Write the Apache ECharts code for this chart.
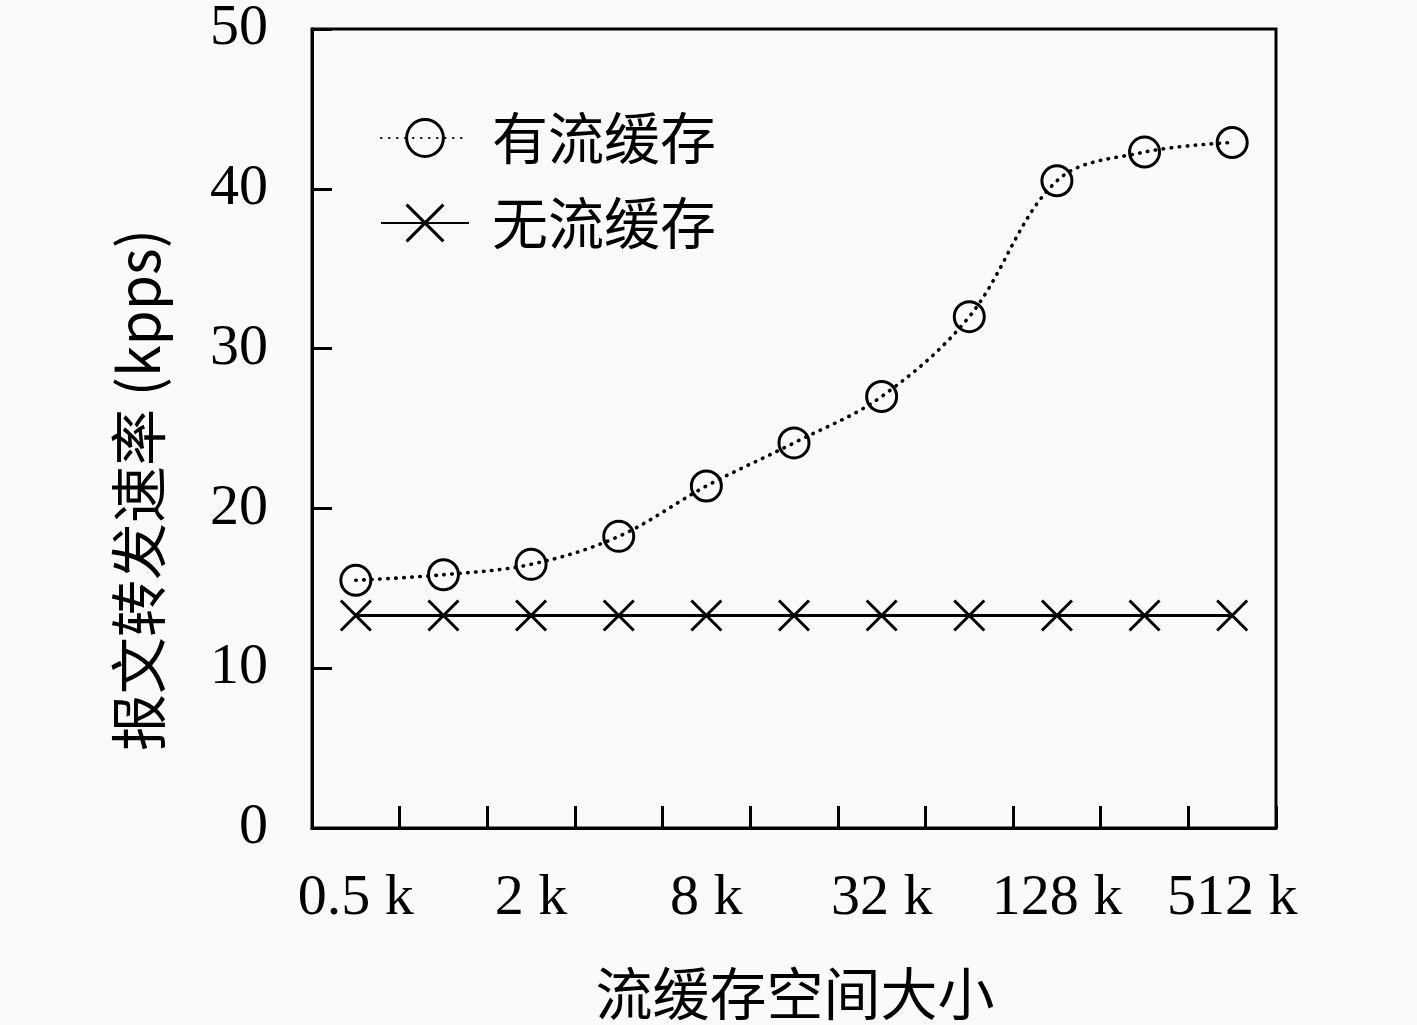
<!DOCTYPE html>
<html>
<head>
<meta charset="utf-8">
<script src="https://cdn.jsdelivr.net/npm/echarts@6/dist/echarts.min.js"></script>
<style>
html,body{margin:0;padding:0;background:#fafafa;}
#c{width:1417px;height:1025px;}
</style>
</head>
<body>
<div id="c"></div>
<script>
var categories = ['0.5 k','1 k','2 k','4 k','8 k','16 k','32 k','64 k','128 k','256 k','512 k'];
var withCache = [15.5, 15.85, 16.5, 18.25, 21.4, 24.1, 27.0, 32.0, 40.5, 42.3, 42.9];
var withoutCache = [13.3, 13.3, 13.3, 13.3, 13.3, 13.3, 13.3, 13.3, 13.3, 13.3, 13.3];
var seriesNames = ['有流缓存', '无流缓存'];
var yTicks = [0, 10, 20, 30, 40, 50];
var xTitle = '流缓存空间大小';
var yTitle = '报文转发速率 (kpps)';

var serif = '"Liberation Serif", "Noto Sans CJK SC", serif';
var cjk = '"Noto Sans CJK SC", "Liberation Serif", sans-serif';
var chart = echarts.init(document.getElementById('c'));
chart.setOption({
  backgroundColor: '#fafafa',
  animation: false,
  grid: {left: 312, top: 24, right: 141, bottom: 197, show: true, borderColor: '#000', borderWidth: 3, containLabel: false},
  legend: {
    orient: 'vertical', left: 375, top: 103, itemWidth: 88, itemHeight: 46, itemGap: 25,
    data: seriesNames,
    itemStyle: {borderWidth: 3, borderColor: '#000'},
    textStyle: {fontFamily: cjk, fontSize: 56, color: '#000', lineHeight: 60, padding: [0, 0, 0, 18]}
  },
  xAxis: {
    type: 'category', data: categories, boundaryGap: true,
    axisLine: {show: true, lineStyle: {color: '#000', width: 3}},
    axisTick: {show: true, inside: true, length: 22, interval: 0, lineStyle: {color: '#000', width: 3}},
    axisLabel: {interval: 1, margin: 42, fontFamily: serif, fontSize: 58, color: '#000'},
    splitLine: {show: false}
  },
  yAxis: {
    type: 'value', min: yTicks[0], max: yTicks[yTicks.length - 1], interval: 10,
    axisLine: {show: true, lineStyle: {color: '#000', width: 3}},
    axisTick: {show: true, inside: true, length: 20, lineStyle: {color: '#000', width: 3}},
    axisLabel: {margin: 44, fontFamily: serif, fontSize: 58, color: '#000'},
    splitLine: {show: false}
  },
  graphic: [
    {type: 'text', x: 795, y: 993,
     style: {text: xTitle, x: 0, y: 0, align: 'center', verticalAlign: 'middle', font: '57px ' + cjk, fill: '#000'}},
    {type: 'text', x: 138, y: 490, rotation: Math.PI / 2,
     style: {text: yTitle, x: 0, y: 0, align: 'center', verticalAlign: 'middle', font: '57px ' + cjk, fill: '#000'}}
  ],
  series: [
    {
      name: seriesNames[0], type: 'line', data: withCache, smooth: 0.35,
      symbol: 'circle', symbolSize: 30,
      itemStyle: {color: 'rgba(0,0,0,0)', borderColor: '#000', borderWidth: 3},
      lineStyle: {color: '#000', width: 3.6, type: [0.5, 7.5], cap: 'round'},
      z: 3
    },
    {
      name: seriesNames[1], type: 'line', data: withoutCache,
      symbol: 'path://M0,0L10,10M10,0L0,10', symbolSize: [30, 30],
      itemStyle: {color: 'rgba(0,0,0,0)', borderColor: '#000', borderWidth: 3},
      lineStyle: {color: '#000', width: 3, type: 'solid'},
      z: 2
    }
  ]
});
</script>
</body>
</html>
